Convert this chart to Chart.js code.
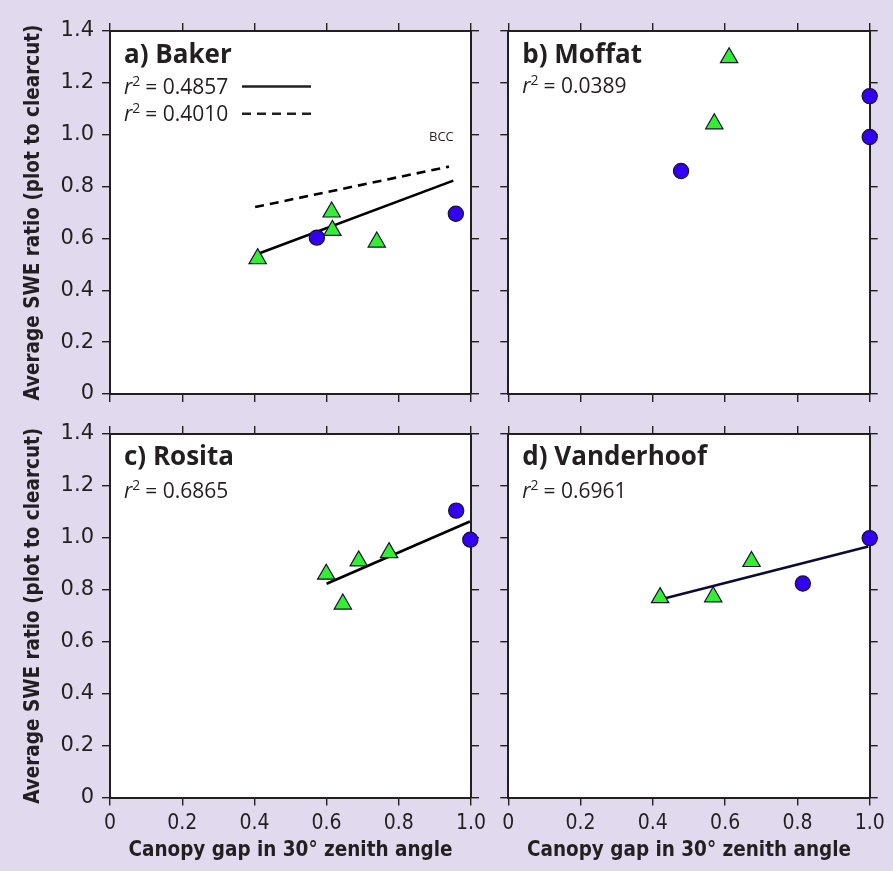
<!DOCTYPE html>
<html><head><meta charset="utf-8">
<script src="https://cdn.jsdelivr.net/npm/chart.js@4.4.1/dist/chart.umd.min.js"></script>
<style>
html,body{margin:0;padding:0;background:#e1daee;}
#wrap{position:relative;width:893px;height:871px;background:#e1daee;overflow:hidden}
canvas{position:absolute;left:0;top:0}
</style></head><body>
<div id="wrap">
<canvas id="ca" width="893" height="871"></canvas>
<canvas id="cb" width="893" height="871"></canvas>
<canvas id="cc" width="893" height="871"></canvas>
<canvas id="cd" width="893" height="871"></canvas>
</div>
<script>
// ---------- data ----------
const xTickLabels = ['0','0.2','0.4','0.6','0.8','1.0'];
const yTickLabels = ['0','0.2','0.4','0.6','0.8','1.0','1.2','1.4'];
const yTitle = 'Average SWE ratio (plot to clearcut)';
const xTitle = 'Canopy gap in 30° zenith angle';

// a) Baker
const bakerCircleX = [0.573, 0.958];
const bakerCircleY = [0.603, 0.695];
const bakerTriX = [0.409, 0.614, 0.616, 0.739];
const bakerTriY = [0.522, 0.702, 0.631, 0.586];
const bakerFitX = [0.414, 0.951];
const bakerFitY = [0.543, 0.823];
const bakerBccX = [0.402, 0.939];
const bakerBccY = [0.721, 0.877];

// b) Moffat
const moffatCircleX = [0.478, 1.0, 1.0];
const moffatCircleY = [0.860, 1.149, 0.991];
const moffatTriX = [0.611, 0.570];
const moffatTriY = [1.297, 1.042];

// c) Rosita
const rositaCircleX = [0.959, 0.998];
const rositaCircleY = [1.105, 0.993];
const rositaTriX = [0.599, 0.645, 0.689, 0.773];
const rositaTriY = [0.860, 0.745, 0.911, 0.943];
const rositaFitX = [0.600, 0.997];
const rositaFitY = [0.823, 1.063];

// d) Vanderhoof
const vanCircleX = [0.815, 1.0];
const vanCircleY = [0.824, 0.999];
const vanTriX = [0.420, 0.567, 0.673];
const vanTriY = [0.770, 0.773, 0.909];
const vanFitX = [0.434, 0.996];
const vanFitY = [0.767, 0.967];

const r2Values = {a:['0.4857','0.4010'], b:['0.0389'], c:['0.6865'], d:['0.6961']};
const panelTitles = {a:'a) Baker', b:'b) Moffat', c:'c) Rosita', d:'d) Vanderhoof'};

// ---------- helpers ----------
const INK = '#231f20';
function pickFont(cands, fallback){
  const c = document.createElement('canvas').getContext('2d');
  const s = 'Average SWE ratio 0.123 Canopy';
  c.font = '20px monospace'; const w0 = c.measureText(s).width;
  for (const f of cands){
    c.font = '20px "'+f+'", monospace';
    if (Math.abs(c.measureText(s).width - w0) > 0.5) return f;
  }
  return fallback;
}
const condFam = pickFont(['Liberation Sans Narrow','DejaVu Sans Condensed','Roboto Condensed','Open Sans Condensed'], 'Liberation Sans');
const m = document.createElement('canvas').getContext('2d');
m.font = 'bold 20px "'+condFam+'"';
const titleSize = Math.min(24, 20*376/m.measureText(yTitle).width);
m.font = '20px "'+condFam+'"';
const xtSize = Math.min(21, 20*32/m.measureText('1.0').width);

const pts = (xs, ys) => xs.map((x,i)=>({x, y: ys[i]}));
function circles(xs, ys){ return {data: pts(xs,ys), pointStyle:'circle', pointRadius:7.6, backgroundColor:'#3300f2', borderColor:'#15122e', borderWidth:1.2, clip:false, order:0}; }
function tris(xs, ys){ return {data: pts(xs,ys), pointStyle:'triangle', pointRadius:10, backgroundColor:'#33ee33', borderColor:'#15122e', borderWidth:1.2, clip:false, order:0}; }
function fit(xs, ys, dash, color){ return {data: pts(xs,ys), showLine:true, pointRadius:0, borderColor: color||'#000', borderWidth:2.6, borderDash: dash||[], order:1}; }

const panelPlugin = {
  id:'panelText',
  beforeDraw(chart){
    const {ctx, chartArea:a} = chart;
    ctx.save(); ctx.fillStyle='#ffffff';
    ctx.fillRect(a.left, a.top, a.right-a.left, a.bottom-a.top);
    ctx.restore();
  },
  afterDatasetsDraw(chart, args, o){
    const {ctx, chartArea:a} = chart;
    ctx.save();
    ctx.fillStyle = INK; ctx.strokeStyle = INK;
    ctx.textBaseline = 'alphabetic'; ctx.textAlign = 'left';
    ctx.font = 'bold 26px "Open Sans"';
    ctx.fillText(o.title, a.left + 14, a.top + o.titleDy);
    o.lines.forEach((ln, i) => {
      const y = a.top + o.lineDy + i*27.3;
      let x = a.left + 14;
      ctx.font = 'italic 21px "Open Sans"'; ctx.fillText('r', x, y); x += ctx.measureText('r').width;
      ctx.font = '14px "Open Sans"'; ctx.fillText('2', x, y - 8); x += ctx.measureText('2').width + 5;
      ctx.font = '21px "Open Sans"'; ctx.fillText('= ' + ln.value, x, y);
      if (ln.key){
        ctx.beginPath(); ctx.lineWidth = 2.6; ctx.setLineDash(ln.dash);
        ctx.moveTo(a.left + 132, y - 7); ctx.lineTo(a.left + 201, y - 7); ctx.stroke();
        ctx.setLineDash([]);
      }
    });
    if (o.note){
      const xs = chart.scales.x, ys = chart.scales.y;
      ctx.font = '13px "Open Sans"'; ctx.textAlign = 'center';
      ctx.fillText(o.note.text, xs.getPixelForValue(o.note.x), ys.getPixelForValue(o.note.y));
    }
    ctx.restore();
  }
};

const W = 893, H = 871, TL = 8;
function makeChart(id, area, opts){
  const leftW = opts.yLabels ? area.l : TL;
  const bottomH = opts.xLabels ? H - area.b : TL;
  const pad = {left: area.l - leftW, right: W - area.r - TL, top: area.t - TL, bottom: H - area.b - bottomH};
  const grid = {drawOnChartArea:false, drawTicks:true, tickLength:TL, color:INK, lineWidth:1.4};
  const border = {display:true, color:INK, width:2};
  const cfg = {
    type:'scatter',
    data:{datasets: opts.datasets},
    options:{
      responsive:false, animation:false, events:[],
      layout:{padding:pad},
      plugins:{legend:{display:false}, tooltip:{enabled:false}, panelText: opts.panel},
      scales:{
        x:{type:'linear', position:'bottom', min:0, max:1, grid, border,
           afterFit: s => { s.height = bottomH; },
           ticks:{display: !!opts.xLabels, stepSize:0.2, padding:5, color:INK,
                  font:{family:condFam, size:xtSize},
                  callback: v => xTickLabels[Math.round(v/0.2)]},
           title:{display: !!opts.xLabels, text:xTitle, color:INK,
                  font:{family:condFam, size:titleSize, weight:'bold'}, padding:{top:0,bottom:8}}},
        x2:{type:'linear', position:'top', min:0, max:1, grid, border,
           afterFit: s => { s.height = TL; },
           ticks:{display:false, stepSize:0.2}},
        y:{type:'linear', position:'left', min:0, max:1.4, grid, border,
           afterFit: s => { s.width = leftW; },
           ticks:{display: !!opts.yLabels, stepSize:0.2, padding:8, color:INK,
                  font:{family:'DejaVu Sans', size:21},
                  callback: v => yTickLabels[Math.round(v/0.2)]},
           title:{display: !!opts.yLabels, text:yTitle, color:INK,
                  font:{family:condFam, size:titleSize, weight:'bold'}, padding:{top:21,bottom:0}}},
        y2:{type:'linear', position:'right', min:0, max:1.4, grid, border,
           afterFit: s => { s.width = TL; },
           ticks:{display:false, stepSize:0.2}}
      }
    },
    plugins:[panelPlugin]
  };
  return new Chart(document.getElementById(id), cfg);
}

makeChart('ca', {l:110, t:31, r:471, b:394}, {yLabels:true, xLabels:false,
  datasets:[circles(bakerCircleX,bakerCircleY), tris(bakerTriX,bakerTriY),
            fit(bakerFitX,bakerFitY), fit(bakerBccX,bakerBccY,[9,6])],
  panel:{title:panelTitles.a, titleDy:31.5, lineDy:62.5,
         lines:[{value:r2Values.a[0], key:true, dash:[]},{value:r2Values.a[1], key:true, dash:[9,6]}],
         note:{text:'BCC', x:0.918, y:0.975}}});

makeChart('cb', {l:508.3, t:31, r:869.7, b:394}, {yLabels:false, xLabels:false,
  datasets:[circles(moffatCircleX,moffatCircleY), tris(moffatTriX,moffatTriY)],
  panel:{title:panelTitles.b, titleDy:31.5, lineDy:61.5, lines:[{value:r2Values.b[0]}]}});

makeChart('cc', {l:110, t:434, r:471, b:797.5}, {yLabels:true, xLabels:true,
  datasets:[circles(rositaCircleX,rositaCircleY), tris(rositaTriX,rositaTriY), fit(rositaFitX,rositaFitY)],
  panel:{title:panelTitles.c, titleDy:30.5, lineDy:63.5, lines:[{value:r2Values.c[0]}]}});

makeChart('cd', {l:508.3, t:434, r:869.7, b:797.5}, {yLabels:false, xLabels:true,
  datasets:[circles(vanCircleX,vanCircleY), tris(vanTriX,vanTriY), fit(vanFitX,vanFitY,[],'#0d0b33')],
  panel:{title:panelTitles.d, titleDy:30.5, lineDy:63.5, lines:[{value:r2Values.d[0]}]}});
</script>
</body></html>
